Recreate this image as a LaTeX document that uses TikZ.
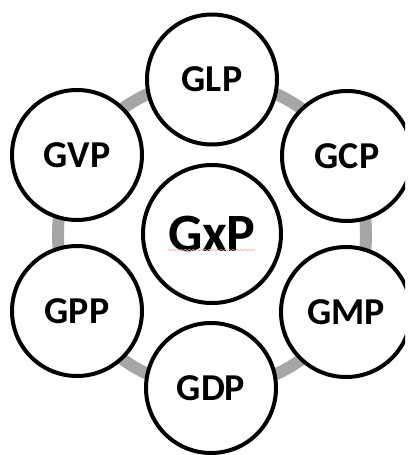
\documentclass[tikz,border=0pt]{standalone}
\usepackage{fontspec}
\setmainfont{Carlito}
\usetikzlibrary{decorations.pathmorphing}
\begin{document}
\begin{tikzpicture}[x=1pt,y=-1pt,
  outer/.style={circle,draw=black,line width=4pt,fill=white,minimum size=130pt,inner sep=0pt,font=\fontsize{38}{42}\selectfont\bfseries},
  center/.style={circle,draw=black,line width=4pt,fill=white,minimum size=138pt,inner sep=0pt,font=\fontsize{54}{60}\selectfont\bfseries},
  ringstyle/.style={draw=black!35,line width=12pt}]
\useasboundingbox (0,0) rectangle (407,455);
\begin{scope}
\clip (0,0) rectangle (405,455);
\coordinate (hub) at (212,234);
\draw[ringstyle] (hub) circle[radius=154];
\node[outer] (glp) at (212,79.5) {GLP};
\node[outer] (gcp) at (347,156) {GCP};
\node[outer] (gmp) at (346,312) {GMP};
\node[outer] (gdp) at (211,388) {GDP};
\node[outer] (gpp) at (77,311) {GPP};
\node[outer] (gvp) at (77,155) {GVP};
\node[center] (gxp) at (212,234) {GxP};
\coordinate (sqa) at (168,250);
\coordinate (sqb) at (255,250);
\draw[red!35,line width=0.6pt,decorate,decoration={snake,amplitude=0.6pt,segment length=4pt}] (sqa) -- (sqb);
\end{scope}
\end{tikzpicture}
\end{document}
